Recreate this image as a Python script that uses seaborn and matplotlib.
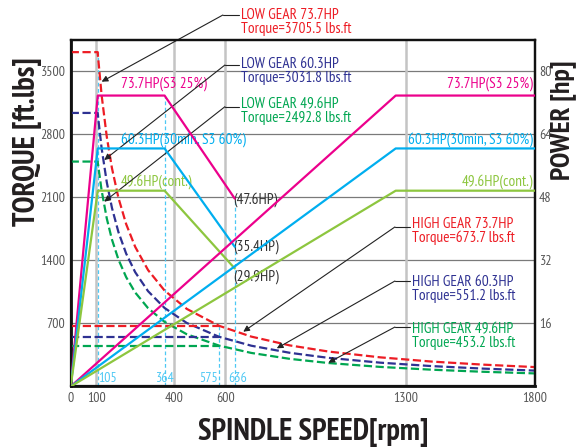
import numpy as np
import pandas as pd
import matplotlib
matplotlib.use("Agg")
from matplotlib import pyplot as plt
import seaborn as sns

sns.set_style("white")
plt.rcParams['font.family'] = ['PT Sans Narrow', 'DejaVu Sans']

# power curves (hp) -- low gear
low_rpm = [0, 105, 364, 636]
low_p737 = [0, 73.7, 73.7, 47.6]
low_p603 = [0, 60.3, 60.3, 35.4]
low_p496 = [0, 49.6, 49.6, 29.9]

# power curves (hp) -- high gear
high_rpm = [0, 1260, 1800]
high_p737 = [0, 73.7, 73.7]
high_p603 = [0, 60.3, 60.3]
high_p496 = [0, 49.6, 49.6]

# torque curves (ft.lbs)
trq_rpm = [0, 105, 105, 120, 140, 160, 185, 215, 250, 300, 364, 450, 575,
           700, 850, 1000, 1200, 1400, 1600, 1800]
trq_737 = [3705.5, 3705.5, 3686, 3226, 2765, 2419, 2092, 1800, 1548, 1290,
           1063, 860, 673, 553, 455, 387, 323, 276, 242, 215]
trq_603 = [3031.8, 3031.8, 3016, 2639, 2262, 1979, 1712, 1473, 1267, 1056,
           870, 704, 551, 452, 373, 317, 264, 226, 198, 176]
trq_496 = [2492.8, 2492.8, 2481, 2171, 1861, 1628, 1408, 1212, 1042, 868,
           716, 579, 453, 372, 306, 260, 217, 186, 163, 145]

high_trq_rpm = [0, 575]
high_trq = {"73.7": 673.7, "60.3": 551.2, "49.6": 453.2}

# light blue markers on rpm axis
mark_rpm = [105, 364, 575, 636]

x_ticks = [0, 100, 400, 600, 1300, 1800]
x_grid = [100, 400, 600, 1300]
y_ticks = [700, 1400, 2100, 2800, 3500]
p_ticks = [16, 32, 48, 64, 80]

RED = "#ed1c24"
NAVY = "#2e3192"
GREEN = "#00a651"
MAGENTA = "#ec008c"
CYAN = "#00aeef"
LIME = "#8dc63f"
LBLUE = "#4dc8f4"

TQ_MAX = 3840
RATIO = 43.75  # torque units per hp on the twin axis

fig = plt.figure(figsize=(5.78, 4.48), dpi=100)
ax = fig.add_axes([0.1223, 0.1373, 0.8033, 0.7734])
ax2 = ax.twinx()

ax.set_xlim(0, 1800)
ax.set_ylim(0, TQ_MAX)
ax2.set_ylim(0, TQ_MAX / RATIO)

# grid
for y in y_ticks:
    ax.axhline(y, color="#7a7a7a", lw=0.9, zorder=1)
for x in x_grid:
    ax.axvline(x, color="#c4c4c4", lw=1.8, zorder=1)

# vertical markers
mark_top = [3705.5, 73.7 * RATIO, 673.7, 47.6 * RATIO]
for r, t in zip(mark_rpm, mark_top):
    ax.plot([r, r], [0, t], color=LBLUE, lw=0.9, ls=(0, (3, 2)), zorder=2)

# torque lines
for vals, col in [(trq_737, RED), (trq_603, NAVY), (trq_496, GREEN)]:
    sns.lineplot(x=trq_rpm, y=vals, ax=ax, color=col, lw=1.6, ls="--",
                 sort=False, estimator=None, zorder=3)
for key, col in [("73.7", RED), ("60.3", NAVY), ("49.6", GREEN)]:
    sns.lineplot(x=high_trq_rpm, y=[high_trq[key]] * 2, ax=ax, color=col,
                 lw=1.6, ls="--", sort=False, estimator=None, zorder=3)

# power lines
for rpm, vals, col in [(low_rpm, low_p737, MAGENTA), (low_rpm, low_p603, CYAN),
                       (low_rpm, low_p496, LIME), (high_rpm, high_p737, MAGENTA),
                       (high_rpm, high_p603, CYAN), (high_rpm, high_p496, LIME)]:
    sns.lineplot(x=rpm, y=vals, ax=ax2, color=col, lw=1.6, sort=False,
                 estimator=None, zorder=4)

# ticks
ax.set_xticks(x_ticks)
ax.set_xticklabels([str(v) for v in x_ticks])
ax.set_yticks(y_ticks)
ax.set_yticklabels([str(v) for v in y_ticks])
ax2.set_yticks(p_ticks)
ax2.set_yticklabels([str(v) for v in p_ticks])
for a in (ax, ax2):
    a.tick_params(length=0, labelsize=10, labelcolor="#555555", pad=4)
    a.set_xlabel("")
    a.set_ylabel("")
    for s in a.spines.values():
        s.set_color("#111111")
        s.set_linewidth(1.6)
ax2.tick_params(pad=3)
ax.spines["left"].set_linewidth(2.0)
ax.spines["bottom"].set_linewidth(2.0)

fig.text(0.048, 0.683, "TORQUE [ft.lbs]", rotation=90, ha="center", va="center",
         fontsize=22, fontweight="bold", color="#231f20")
fig.text(0.975, 0.732, "POWER [hp]", rotation=90, ha="center", va="center",
         fontsize=20, fontweight="bold", color="#231f20")
fig.text(0.5415, 0.035, "SPINDLE SPEED[rpm]", ha="center", va="center",
         fontsize=22, fontweight="bold", color="#231f20")

# curve labels
FS = 11
ax.text(194, 3360, "73.7HP(S3 25%)", color=MAGENTA, fontsize=FS, va="center")
ax.text(194, 2732, "60.3HP(30min, S3 60%)", color=CYAN, fontsize=FS, va="center")
ax.text(194, 2270, "49.6HP(cont.)", color=LIME, fontsize=FS, va="center")
ax.text(1793, 3360, "73.7HP(S3 25%)", color=MAGENTA, fontsize=FS, va="center", ha="right")
ax.text(1793, 2732, "60.3HP(30min, S3 60%)", color=CYAN, fontsize=FS, va="center", ha="right")
ax.text(1793, 2270, "49.6HP(cont.)", color=LIME, fontsize=FS, va="center", ha="right")
ax.text(629, 2067, "(47.6HP)", color="#333333", fontsize=FS, va="center")
ax.text(629, 1549, "(35.4HP)", color="#333333", fontsize=FS, va="center")
ax.text(629, 1217, "(29.9HP)", color="#333333", fontsize=FS, va="center")

ax.text(107, 91, "105", color=LBLUE, fontsize=10, va="center", ha="left")
ax.text(364, 91, "364", color=LBLUE, fontsize=10, va="center", ha="center")
ax.text(572, 91, "575", color=LBLUE, fontsize=10, va="center", ha="right")
ax.text(612, 91, "636", color=LBLUE, fontsize=10, va="center", ha="left")

# gear callouts: (text, color, text x, text y, elbow x, elbow y, tip x, tip y)
callouts = [
    ("LOW GEAR 73.7HP\nTorque=3705.5 lbs.ft", RED, 660, 4045, 590, 4117, 120, 3378),
    ("LOW GEAR 60.3HP\nTorque=3031.8 lbs.ft", NAVY, 660, 3496, 598, 3563, 130, 2510),
    ("LOW GEAR 49.6HP\nTorque=2492.8 lbs.ft", GREEN, 660, 3053, 598, 3101, 130, 2048),
    ("HIGH GEAR 73.7HP\nTorque=673.7 lbs.ft", RED, 1322, 1723, 1257, 1768, 669, 607),
    ("HIGH GEAR 60.3HP\nTorque=551.2 lbs.ft", NAVY, 1322, 1083, 1257, 1169, 799, 423),
    ("HIGH GEAR 49.6HP\nTorque=453.2 lbs.ft", GREEN, 1322, 560, 1257, 659, 999, 264),
]
for txt, col, tx, ty, ex, ey, px, py in callouts:
    ax.text(tx, ty, txt, color=col, fontsize=FS, va="center", ha="left",
            linespacing=1.0, clip_on=False)
    ax.plot([ex, tx - 8], [ey, ey], color="#222222", lw=0.8, clip_on=False, zorder=6)
    ax.annotate("", xy=(px, py), xytext=(ex, ey), annotation_clip=False,
                arrowprops=dict(arrowstyle="-|>", color="#222222", lw=0.8,
                                mutation_scale=9, shrinkA=0, shrinkB=0),
                zorder=6)

fig.savefig("out.png", dpi=100)
